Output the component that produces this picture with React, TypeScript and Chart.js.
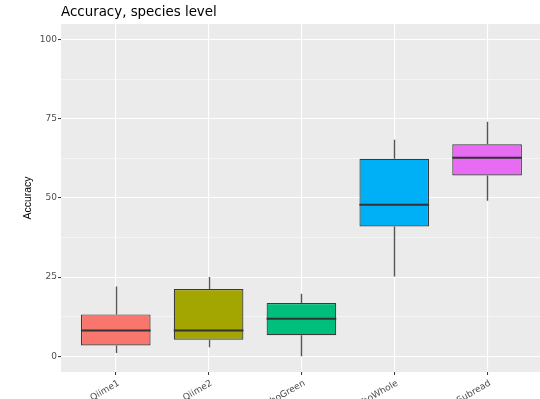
import React, { useEffect, useRef } from "react";
import { Chart, registerables } from "chart.js";

Chart.register(...registerables);

const categories = ["Qiime1", "Qiime2", "PathoGreen", "PathoWhole", "Subread"];
const whiskerLow = [1.0, 2.8, 0.0, 25.2, 49.1];
const quartile1 = [3.4, 5.2, 6.6, 41.0, 57.1];
const medians = [8.1, 8.1, 11.8, 47.9, 62.7];
const quartile3 = [13.2, 21.2, 16.8, 62.4, 67.0];
const whiskerHigh = [22.0, 25.0, 19.7, 68.4, 74.1];
const fillColors = ["#F8766D", "#A3A500", "#00BF7D", "#00B0F6", "#E76BF3"];
const yMajorTicks = [0, 25, 50, 75, 100];
const yMinorTicks = [12.5, 37.5, 62.5, 87.5];

const FONT = "'DejaVu Sans', sans-serif";

const panelPlugin = {
  id: "panelBg",
  beforeDraw(chart: any) {
    const { ctx, chartArea } = chart;
    ctx.save();
    ctx.fillStyle = "#EBEBEB";
    ctx.fillRect(chartArea.left, chartArea.top, chartArea.right - chartArea.left, chartArea.bottom - chartArea.top);
    ctx.restore();
  },
};

const boxPlugin = {
  id: "boxExtras",
  beforeDatasetsDraw(chart: any) {
    const { ctx } = chart;
    const y = chart.scales.y;
    const meta = chart.getDatasetMeta(0);
    ctx.save();
    ctx.strokeStyle = "#555555";
    ctx.lineWidth = 1.4;
    meta.data.forEach((bar: any, i: number) => {
      const x = Math.round(bar.x) + 0.5;
      ctx.beginPath();
      ctx.moveTo(x, y.getPixelForValue(whiskerLow[i]));
      ctx.lineTo(x, y.getPixelForValue(quartile1[i]));
      ctx.moveTo(x, y.getPixelForValue(quartile3[i]));
      ctx.lineTo(x, y.getPixelForValue(whiskerHigh[i]));
      ctx.stroke();
    });
    ctx.restore();
  },
  afterDatasetsDraw(chart: any) {
    const { ctx } = chart;
    const y = chart.scales.y;
    const meta = chart.getDatasetMeta(0);
    ctx.save();
    ctx.strokeStyle = "#333333";
    ctx.lineWidth = 2;
    meta.data.forEach((bar: any, i: number) => {
      const half = bar.width / 2;
      const py = y.getPixelForValue(medians[i]);
      ctx.beginPath();
      ctx.moveTo(bar.x - half, py);
      ctx.lineTo(bar.x + half, py);
      ctx.stroke();
    });
    ctx.restore();
  },
};

export default function App() {
  const canvasRef = useRef<HTMLCanvasElement | null>(null);

  useEffect(() => {
    if (!canvasRef.current) return;
    const isMinor = (v: number) => yMinorTicks.includes(v);
    const chart = new Chart(canvasRef.current, {
      type: "bar",
      data: {
        datasets: [
          {
            data: categories.map((c, i) => ({ x: i + 1, y: [quartile1[i], quartile3[i]] })) as any,
            backgroundColor: fillColors,
            borderColor: "#3A3A3A",
            borderWidth: 1.2,
            borderSkipped: false,
            barPercentage: 0.75,
            categoryPercentage: 1,
            grouped: false,
          } as any,
        ],
      },
      options: {
        animation: false,
        responsive: false,
        maintainAspectRatio: false,
        layout: { padding: 0 },
        plugins: {
          legend: { display: false },
          tooltip: { enabled: false },
          title: {
            display: true,
            text: "Accuracy, species level",
            align: "start",
            fullSize: false,
            color: "#000000",
            font: { family: FONT, size: 13.4, weight: "normal" },
            padding: { top: 4, bottom: 3.9 },
          },
        },
        scales: {
          x: {
            type: "linear",
            min: 0.41,
            max: 5.57,
            offset: false,
            afterBuildTicks(scale: any) {
              scale.ticks = categories.map((c, i) => ({ value: i + 1 }));
            },
            afterFit(scale: any) {
              scale.height = 27;
              scale.paddingLeft = 0;
              scale.paddingRight = 0;
            },
            ticks: {
              autoSkip: false,
              minRotation: 30,
              maxRotation: 30,
              padding: 3,
              labelOffset: 3,
              color: "#4D4D4D",
              font: { family: FONT, size: 9 },
              callback: (v: any) => categories[Math.round(Number(v)) - 1] ?? "",
            },
            grid: {
              offset: false,
              color: "#FFFFFF",
              lineWidth: 1.1,
              tickColor: "#333333",
              tickLength: 3,
              tickWidth: 1,
            },
            border: { display: false },
          },
          y: {
            type: "linear",
            min: -5,
            max: 105,
            afterBuildTicks(scale: any) {
              scale.ticks = [...yMajorTicks, ...yMinorTicks]
                .sort((a, b) => a - b)
                .map((v) => ({ value: v }));
            },
            afterFit(scale: any) {
              scale.width = 61;
              scale.paddingTop = 0;
              scale.paddingBottom = 0;
            },
            ticks: {
              autoSkip: false,
              padding: 1,
              color: "#4D4D4D",
              font: { family: FONT, size: 9 },
              callback: (v: any) => (isMinor(Number(v)) ? "" : String(v)),
            },
            grid: {
              color: "#FFFFFF",
              lineWidth: (ctx: any) => (isMinor(ctx.tick?.value) ? 0.5 : 1.1),
              tickColor: (ctx: any) => (isMinor(ctx.tick?.value) ? "rgba(0,0,0,0)" : "#333333"),
              tickLength: 3,
              tickWidth: 1,
            },
            border: { display: false },
            title: {
              display: true,
              text: "Accuracy",
              color: "#000000",
              font: { family: "'Liberation Sans', sans-serif", size: 10.5 },
              padding: { top: 22, bottom: 0 },
            },
          },
        },
      },
      plugins: [panelPlugin, boxPlugin],
    } as any);
    return () => chart.destroy();
  }, []);

  return (
    <div style={{ position: "absolute", left: 0, top: 0, width: 540, height: 399, overflow: "hidden" }}>
      <canvas ref={canvasRef} width={540} height={399} style={{ display: "block" }} />
    </div>
  );
}
